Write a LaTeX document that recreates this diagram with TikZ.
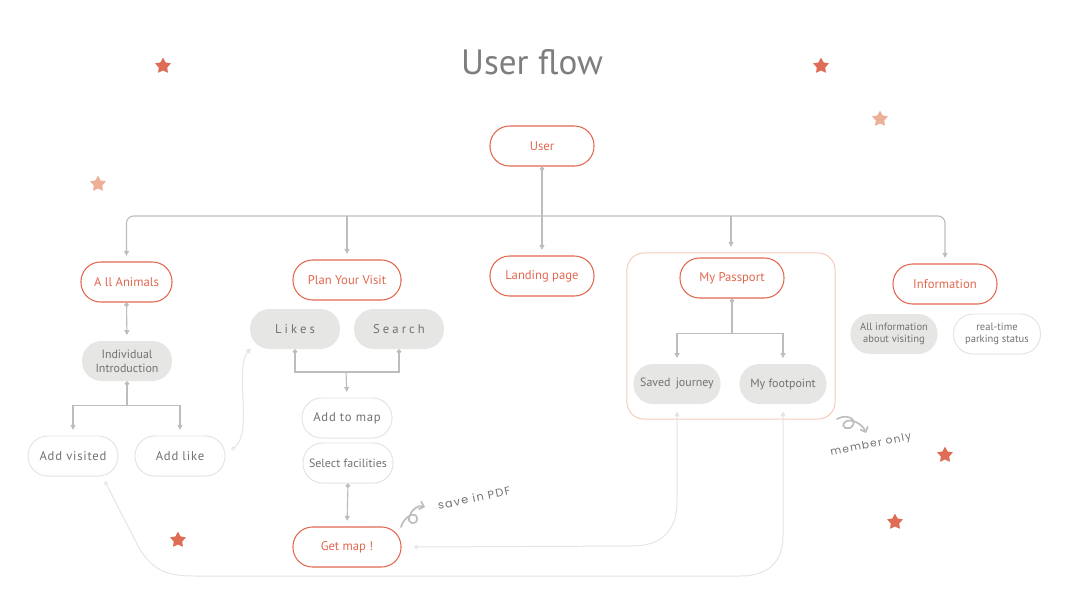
\documentclass[tikz,border=0pt]{standalone}
\usepackage{fontspec}
\setmainfont{PT Sans}
\newfontfamily\handfont{Poppins}
\usetikzlibrary{arrows.meta,shapes.geometric,calc}

\definecolor{accent}{HTML}{E2674F}
\definecolor{titlegray}{HTML}{7E7E7E}
\definecolor{textgray}{HTML}{727272}
\definecolor{boxgray}{HTML}{E6E6E4}
\definecolor{linegray}{HTML}{BDBDBD}
\definecolor{faint}{HTML}{E4E4E4}
\definecolor{paleframe}{HTML}{F3CBBD}
\definecolor{starred}{HTML}{DF6C55}
\definecolor{starpale}{HTML}{EEAF97}

\tikzset{
    mainbox/.style={draw=accent, text=accent, line width=0.75pt, rounded corners=0.49cm,
        minimum width=2.6cm, minimum height=1cm, inner sep=1pt, font=\fontsize{9}{11}\selectfont},
    greybox/.style={fill=boxgray, text=textgray, rounded corners=0.49cm,
        minimum width=2.25cm, minimum height=1cm, inner sep=1pt, font=\fontsize{8.5}{10}\selectfont},
    whitebox/.style={greybox, fill=white, draw=faint, line width=0.7pt},
    spaced/.style={font=\fontsize{9}{11}\selectfont\addfontfeature{LetterSpace=24}},
    link/.style={draw=linegray, line width=0.8pt},
    arrowlink/.style={link, -{Triangle[length=3.5pt,width=3.5pt]}, shorten >=4pt},
    dotlink/.style={link, {Circle[length=3.2pt]}-},
    dotarrow/.style={link, {Circle[length=3.2pt]}-{Triangle[length=3.5pt,width=3.5pt]}, shorten >=4pt},
    faintlink/.style={draw=faint, line width=0.7pt, {Circle[open,length=3pt]}-{Triangle[length=3.5pt,width=3.5pt]},
        shorten >=5pt},
    squiggle/.style={draw=linegray, line width=1.2pt, line cap=round, -{Straight Barb[length=3pt,width=6pt]}},
    hand/.style={text=textgray, font=\handfont\fontsize{7.5}{8}\selectfont\addfontfeature{LetterSpace=12}},
    starmark/.style={star, star points=5, star point ratio=1.9, fill=starred, minimum size=0.42cm, inner sep=0pt},
}

\begin{document}
\begin{tikzpicture}[x=0.025cm, y=-0.025cm]
    \useasboundingbox (0,0) rectangle (1065,601);

    \node[text=titlegray, font=\fontsize{25}{30}\selectfont] (title) at (532,62) {User flow};

    % first level
    \node[mainbox] (user) at (542,146) {User};
    \node[mainbox, minimum width=2.275cm] (anim) at (126.5,282) {A ll Animals};
    \node[mainbox, minimum width=2.7cm] (plan) at (347,280) {Plan Your Visit};
    \node[mainbox] (land) at (542,276) {Landing page};
    \node[draw=paleframe, line width=0.7pt, rounded corners=12pt, minimum width=5.2cm,
        minimum height=4.15cm] (passframe) at (731,336) {};
    \node[mainbox] (pass) at (732,278) {My Passport};
    \node[mainbox] (info) at (945,284) {Information};

    % second level
    \node[greybox, align=center] (indiv) at (127,361) {Individual\\Introduction};
    \node[whitebox, font=\fontsize{9}{11}\selectfont\addfontfeature{LetterSpace=6}] (addv) at (73,456) {Add visited};
    \node[whitebox, font=\fontsize{9}{11}\selectfont\addfontfeature{LetterSpace=6}] (addl) at (180,456) {Add like};
    \node[greybox, spaced] (likes) at (295,329) {Likes};
    \node[greybox, spaced] (search) at (399,329) {Search};
    \node[whitebox, font=\fontsize{9}{11}\selectfont\addfontfeature{LetterSpace=6}] (addmap) at (347,418) {Add to map};
    \node[whitebox] (facil) at (348,463) {Select facilities};
    \node[mainbox, minimum width=2.7cm] (getmap) at (347,547) {Get map !};
    \node[greybox, minimum width=2.175cm] (saved) at (677,384) {Saved\, journey};
    \node[greybox, minimum width=2.175cm] (foot) at (783,384) {My footpoint};
    \node[greybox, minimum width=2.175cm, align=center, font=\fontsize{7.5}{9}\selectfont] (allinfo) at (894,334) {All information\\about visiting};
    \node[whitebox, minimum width=2.175cm, align=center, font=\fontsize{7.5}{9}\selectfont] (park) at (997,334) {real-time\\parking status};

    % main bus
    \coordinate (bus) at (542,216);
    \draw[link, {Triangle[length=3.5pt,width=3.5pt]}-{Triangle[length=3.5pt,width=3.5pt]},
        rounded corners=5pt, shorten <=4pt, shorten >=4pt] (anim.north) |- (bus) -| (info.north);
    \draw[dotarrow] (user.south) -- (land.north);
    \draw[arrowlink] (plan.north |- bus) -- (plan.north);
    \draw[arrowlink] (passframe.north |- bus) -- (passframe.north);

    % all animals
    \draw[dotarrow] (anim.south) -- (indiv.north);
    \coordinate (split1) at ($(indiv.south)+(0,24)$);
    \draw[dotlink] (indiv.south) -- (split1);
    \draw[arrowlink] (split1) -| (addv.north);
    \draw[arrowlink] (split1) -| (addl.north);

    % plan your visit
    \coordinate (join2) at (346,372);
    \draw[dotlink] (likes.south) |- (join2);
    \draw[dotlink] (search.south) |- (join2);
    \draw[arrowlink] (join2) -- (addmap.north);
    \draw[dotarrow] (facil.south) -- (getmap.north);

    % passport
    \coordinate (split3) at ($(pass.south)+(0,35)$);
    \draw[dotlink] (pass.south) -- (split3);
    \draw[arrowlink] (split3) -| (saved.north);
    \draw[arrowlink] (split3) -| (foot.north);

    % faint return lines
    \draw[faintlink] ([shift={(6,-6)}]addl.east) .. controls (244,440) and (244,420) .. (243,400)
        .. controls (242,375) and (242,358) .. ([shift={(6,-6)}]likes.south west);
    \draw[faintlink] ([xshift=9]getmap.east) -- (632,546) .. controls (662,546) and (677,530) .. (677,502)
        -- (saved.south);
    \draw[faintlink] ([shift={(32,5)}]addv.south) -- (138,546) .. controls (152,570) and (165,576) .. (195,576)
        -- (740,576) .. controls (768,576) and (783,562) .. (783,536) -- (foot.south);

    % notes
    \draw[squiggle] (401,527) .. controls (404,516) and (416,511) .. (417,518)
        .. controls (418,526) and (405,525) .. (410,515) .. controls (413,508) and (419,505) .. (425,507);
    \node[hand, rotate=12, font=\handfont\fontsize{8}{9}\selectfont\addfontfeature{LetterSpace=12}] (pdfnote) at (474,498) {save in PDF};
    \draw[squiggle] (837,419) .. controls (846,414) and (856,418) .. (853,425)
        .. controls (850,431) and (839,428) .. (845,422) .. controls (850,418) and (862,423) .. (866,433);
    \node[hand, rotate=11] (membernote) at (871,445) {member only};

    % stars
    \node[starmark] (star1) at (163,66) {};
    \node[starmark] (star2) at (821,66) {};
    \node[starmark, fill=starpale] (star3) at (880,119) {};
    \node[starmark, fill=starpale] (star4) at (98,184) {};
    \node[starmark] (star5) at (945,455) {};
    \node[starmark] (star6) at (895,522) {};
    \node[starmark] (star7) at (178,540) {};
\end{tikzpicture}
\end{document}
